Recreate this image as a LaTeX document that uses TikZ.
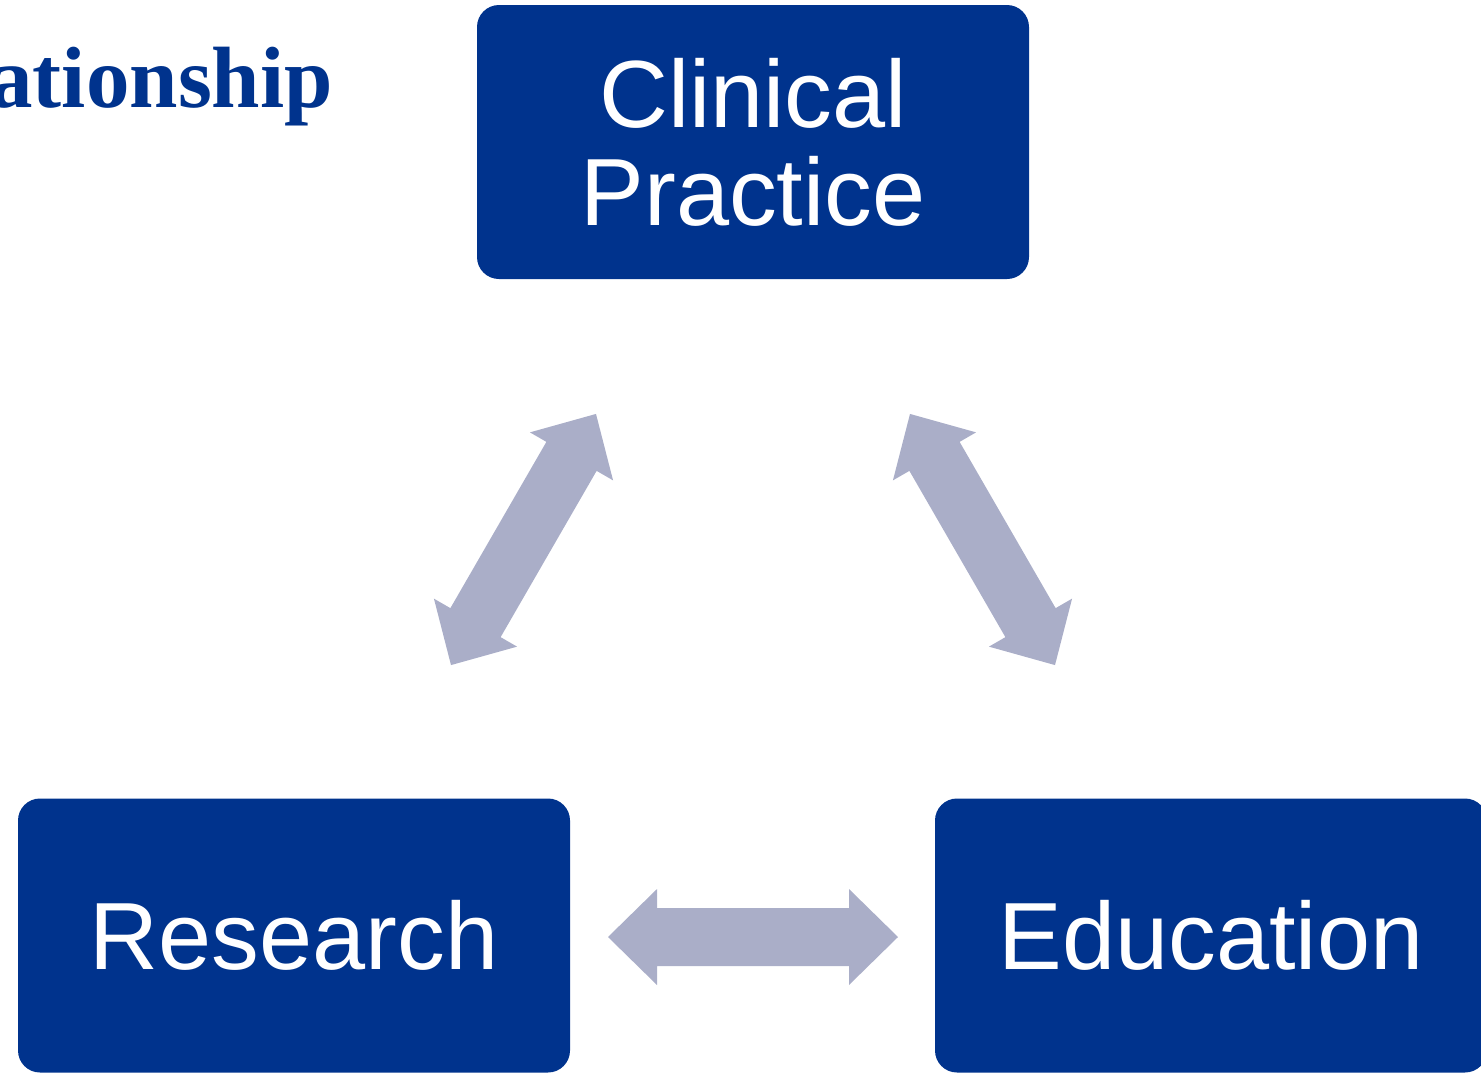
\documentclass[tikz,border=0pt]{standalone}
\usepackage{fontspec}
\setmainfont{Liberation Sans}
\newfontfamily\titlefont{Liberation Serif}
\definecolor{boxblue}{RGB}{0,51,141}
\definecolor{arrowgray}{RGB}{170,174,200}
\begin{document}
\begin{tikzpicture}[x=1pt,y=-1pt,
  box/.style={draw=none,fill=boxblue,rounded corners=22pt,minimum width=552pt,minimum height=274pt,
    inner sep=0pt,text=white,align=center,font=\fontsize{95.5}{98}\selectfont},
  pics/dblarrow/.style={code={
    \fill[arrowgray] (-145,0) -- (-96,48) -- (-96,29) -- (96,29) -- (96,48) -- (145,0)
      -- (96,-48) -- (96,-29) -- (-96,-29) -- (-96,-48) -- cycle;}}]
\useasboundingbox (0,0) rectangle (1481,1072);
\clip (0,0) rectangle (1481,1072);
\node[box] (clin) at (753,142) {\raisebox{13pt}{\parbox{500pt}{\centering Clinical\\Practice}}};
\node[box] (res) at (294,935.5) {\raisebox{2pt}{Research}};
\node[box] (edu) at (1211,935.5) {\raisebox{2pt}{Education}};
\node[anchor=base east,text=boxblue,font=\titlefont\bfseries\fontsize{87}{90}\selectfont,inner sep=0pt] (title) at (333,107) {ationship};
\coordinate (a1) at (523.5,539.5);
\coordinate (a2) at (982.5,539.5);
\coordinate (a3) at (753,937);
\pic[shift={(a1)},rotate=60] {dblarrow};
\pic[shift={(a2)},rotate=-60] {dblarrow};
\pic[shift={(a3)}] {dblarrow};
\end{tikzpicture}
\end{document}
